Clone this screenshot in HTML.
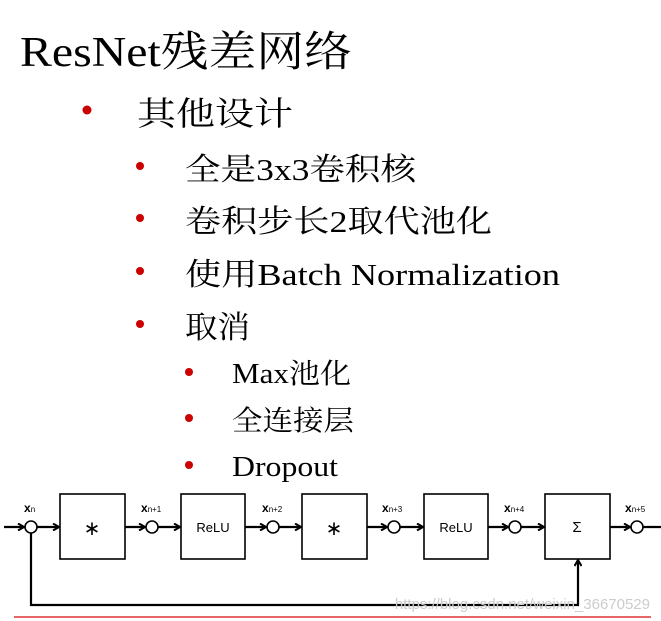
<!DOCTYPE html>
<html><head><meta charset="utf-8"><style>
html,body{margin:0;padding:0;background:#fff;}
svg{display:block;}
.s{font-family:"Liberation Serif","Noto Serif CJK SC",serif;fill:#000;}
.d{font-family:"Liberation Sans",sans-serif;fill:#000;}
</style></head><body>
<svg width="661" height="621" viewBox="0 0 661 621" xmlns="http://www.w3.org/2000/svg">
<rect width="661" height="621" fill="#fff"/>
<text class="s" x="20" y="66" font-size="42" textLength="332" lengthAdjust="spacingAndGlyphs">ResNet残差网络</text>
<circle cx="87" cy="110" r="4.5" fill="#c00"/>
<text class="s" x="137" y="125" font-size="33" textLength="156" lengthAdjust="spacingAndGlyphs">其他设计</text>
<g fill="#c00">
<circle cx="140" cy="166" r="4"/><circle cx="140" cy="218" r="4"/><circle cx="140" cy="271" r="4"/><circle cx="140" cy="324" r="4"/>
<circle cx="189" cy="372" r="4"/><circle cx="189" cy="418" r="4"/><circle cx="189" cy="465" r="4"/>
</g>
<text class="s" x="185" y="180" font-size="31" textLength="231" lengthAdjust="spacingAndGlyphs">全是3x3卷积核</text>
<text class="s" x="185" y="232" font-size="31" textLength="307" lengthAdjust="spacingAndGlyphs">卷积步长2取代池化</text>
<text class="s" x="185" y="285" font-size="31" textLength="375" lengthAdjust="spacingAndGlyphs">使用Batch Normalization</text>
<text class="s" x="185" y="338" font-size="31" textLength="65" lengthAdjust="spacingAndGlyphs">取消</text>
<text class="s" x="232" y="383" font-size="28" textLength="119" lengthAdjust="spacingAndGlyphs">Max池化</text>
<text class="s" x="232" y="430" font-size="28" textLength="122" lengthAdjust="spacingAndGlyphs">全连接层</text>
<text class="s" x="232" y="476" font-size="28" textLength="106" lengthAdjust="spacingAndGlyphs">Dropout</text>
<defs><marker id="a" markerWidth="8" markerHeight="8" refX="7" refY="4" orient="auto" markerUnits="userSpaceOnUse"><path d="M1,0.5 L7,4 L1,7.5" fill="none" stroke="#000" stroke-width="2"/></marker></defs>
<g stroke="#000" stroke-width="2.2" fill="none">
<line x1="4" y1="527" x2="24" y2="527" marker-end="url(#a)"/>
<line x1="37" y1="527" x2="59" y2="527" marker-end="url(#a)"/>
<line x1="125" y1="527" x2="145" y2="527" marker-end="url(#a)"/>
<line x1="158" y1="527" x2="180" y2="527" marker-end="url(#a)"/>
<line x1="245" y1="527" x2="266" y2="527" marker-end="url(#a)"/>
<line x1="279" y1="527" x2="301" y2="527" marker-end="url(#a)"/>
<line x1="367" y1="527" x2="387" y2="527" marker-end="url(#a)"/>
<line x1="400" y1="527" x2="423" y2="527" marker-end="url(#a)"/>
<line x1="488" y1="527" x2="508" y2="527" marker-end="url(#a)"/>
<line x1="521" y1="527" x2="544" y2="527" marker-end="url(#a)"/>
<line x1="610" y1="527" x2="630" y2="527" marker-end="url(#a)"/>
<line x1="643" y1="527" x2="661" y2="527"/>
<polyline points="31,533 31,605 578,605 578,560" marker-end="url(#a)"/>
</g>
<g stroke="#000" stroke-width="1.6" fill="#fff">
<rect x="60" y="494" width="65" height="65"/><rect x="181" y="494" width="64" height="65"/>
<rect x="302" y="494" width="65" height="65"/><rect x="424" y="494" width="64" height="65"/>
<rect x="545" y="494" width="65" height="65"/>
<circle cx="31" cy="527" r="6"/><circle cx="152" cy="527" r="6"/><circle cx="273" cy="527" r="6"/>
<circle cx="394" cy="527" r="6"/><circle cx="515" cy="527" r="6"/><circle cx="637" cy="527" r="6"/>
</g>
<g class="d" font-size="13" text-anchor="middle">
<text x="92" y="535" font-size="20">∗</text>
<text x="213" y="532">ReLU</text>
<text x="334" y="535" font-size="20">∗</text>
<text x="456" y="532">ReLU</text>
<text x="577" y="532" font-size="15">Σ</text>
</g>
<g class="d" font-size="12" font-weight="bold">
<text x="24" y="512">x<tspan font-size="8" font-weight="normal">n</tspan></text>
<text x="141" y="512">x<tspan font-size="8" font-weight="normal">n+1</tspan></text>
<text x="262" y="512">x<tspan font-size="8" font-weight="normal">n+2</tspan></text>
<text x="382" y="512">x<tspan font-size="8" font-weight="normal">n+3</tspan></text>
<text x="504" y="512">x<tspan font-size="8" font-weight="normal">n+4</tspan></text>
<text x="625" y="512">x<tspan font-size="8" font-weight="normal">n+5</tspan></text>
</g>
<text class="d" x="650" y="609" font-size="15" text-anchor="end" fill="#ccc" style="fill:#ccc">https://blog.csdn.net/weixin_36670529</text>
<line x1="14" y1="617" x2="651" y2="617" stroke="#d33" stroke-width="1.5"/>
</svg>
</body></html>
